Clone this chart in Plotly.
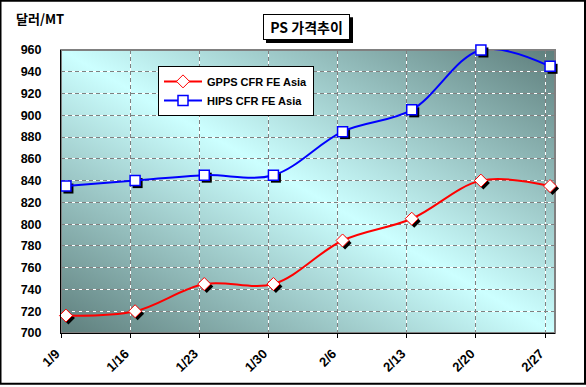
import base64
from datetime import datetime
import plotly.graph_objects as go

# ---- data ----
dates = ["2009-01-09", "2009-01-16", "2009-01-23", "2009-01-30",
         "2009-02-06", "2009-02-13", "2009-02-20", "2009-02-27"]
tick_labels = ["1/9", "1/16", "1/23", "1/30", "2/6", "2/13", "2/20", "2/27"]
gpps = [716, 720, 745, 745, 785, 805, 840, 835]
hips = [835, 840, 845, 845, 885, 905, 960, 945]
gpps_name = "GPPS CFR FE Asia"
hips_name = "HIPS CFR FE Asia"
title_text = "PS 가격추이"
y_title = "달러/MT"
y_ticks = list(range(700, 961, 20))

FONT = "Liberation Sans, Arial, Noto Sans CJK KR, sans-serif"
KFONT = "Noto Sans CJK KR, Liberation Sans, sans-serif"

W, H = 586, 387
ML, MR, MT, MB = 61, 31, 50, 52
PW, PH = W - ML - MR, H - MT - MB

x0d, x1d = datetime(2009, 1, 9), datetime(2009, 2, 28)
xrange_ = [x0d.strftime("%Y-%m-%d"), x1d.strftime("%Y-%m-%d")]
yrange_ = [700, 960]

# shadow axes: same scale, shifted ~2.5 px right / down
SH = 2.5
dx = (x1d - x0d) * (SH / PW)
dy = (yrange_[1] - yrange_[0]) * SH / PH
xrange_sh = [(x0d - dx).strftime("%Y-%m-%d %H:%M:%S"),
             (x1d - dx).strftime("%Y-%m-%d %H:%M:%S")]
yrange_sh = [yrange_[0] + dy, yrange_[1] + dy]

svg = (
    f'<svg xmlns="http://www.w3.org/2000/svg" width="{PW}" height="{PH}" '
    f'viewBox="0 0 {PW} {PH}" preserveAspectRatio="none">'
    '<defs><linearGradient id="g" x1="0" y1="1" x2="1" y2="0">'
    '<stop offset="0" stop-color="#5e7e7c"/>'
    '<stop offset="0.5" stop-color="#ccffff"/>'
    '<stop offset="1" stop-color="#5e7e7c"/>'
    '</linearGradient></defs>'
    f'<rect width="{PW}" height="{PH}" fill="url(#g)"/></svg>'
)
svg_uri = "data:image/svg+xml;base64," + base64.b64encode(svg.encode()).decode()

fig = go.Figure()
# helpers so the primary / grid-dash axes exist
fig.add_trace(go.Scatter(x=[dates[0]], y=[yrange_[0]], mode="markers",
                         marker=dict(opacity=0), showlegend=False, hoverinfo="skip"))
fig.add_trace(go.Scatter(x=[dates[0]], y=[yrange_[0]], xaxis="x2", yaxis="y2",
                         mode="markers", marker=dict(opacity=0), showlegend=False,
                         hoverinfo="skip"))
# marker shadows
for vals, sym in ((gpps, "diamond"), (hips, "square")):
    fig.add_trace(go.Scatter(
        x=dates, y=vals, xaxis="x3", yaxis="y3", mode="markers",
        xperiod=86400000, xperiodalignment="middle",
        marker=dict(symbol=sym, size=10, color="black", line=dict(width=0)),
        showlegend=False, hoverinfo="skip", cliponaxis=False,
    ))
# main series
fig.add_trace(go.Scatter(
    x=dates, y=gpps, name=gpps_name, mode="lines+markers",
    xaxis="x4", yaxis="y4",
    xperiod=86400000, xperiodalignment="middle",
    line=dict(color="#ff0000", width=2, shape="spline", smoothing=1),
    marker=dict(symbol="diamond", size=10, color="white",
                line=dict(color="#ff0000", width=1)),
    cliponaxis=False,
))
fig.add_trace(go.Scatter(
    x=dates, y=hips, name=hips_name, mode="lines+markers",
    xaxis="x4", yaxis="y4",
    xperiod=86400000, xperiodalignment="middle",
    line=dict(color="#0000ff", width=2, shape="spline", smoothing=1),
    marker=dict(symbol="square", size=10, color="white",
                line=dict(color="#0000ff", width=1.5)),
    cliponaxis=False,
))

hidden = dict(showticklabels=False, ticks="", showgrid=False, showline=False,
              zeroline=False)

fig.update_layout(
    width=W, height=H,
    margin=dict(l=ML, r=MR, t=MT, b=MB),
    paper_bgcolor="white",
    plot_bgcolor="rgba(0,0,0,0)",
    font=dict(family=FONT, color="black"),
    showlegend=True,
    hovermode=False,
    legend=dict(
        x=(158 - ML) / PW, y=1 - (66 - MT) / PH, xanchor="left", yanchor="top",
        bgcolor="white", bordercolor="black", borderwidth=1,
        font=dict(family=FONT, size=11, color="black", weight="bold"),
        tracegroupgap=0, itemwidth=38,
    ),
    xaxis=dict(
        type="date", range=xrange_,
        tickvals=dates, ticktext=tick_labels, tickangle=-45,
        tickfont=dict(family=FONT, size=13, color="black", weight="bold"),
        ticks="outside", ticklen=4, tickcolor="black",
        ticklabelshift=-5, ticklabelstandoff=3,
        showgrid=True, gridcolor="white", gridwidth=1,
        showline=True, linecolor="black", linewidth=1,
        zeroline=False,
    ),
    yaxis=dict(
        range=yrange_, tickvals=y_ticks,
        tickfont=dict(family=FONT, size=12.5, color="black", weight="bold"),
        ticks="", ticklabelstandoff=16,
        showgrid=True, gridcolor="white", gridwidth=1,
        showline=True, linecolor="black", linewidth=1,
        zeroline=False,
    ),
    xaxis2=dict(
        type="date", range=xrange_, overlaying="x", anchor="y2",
        tickvals=dates, showticklabels=False, ticks="",
        showgrid=True, gridcolor="#808080", griddash="4px,3px", gridwidth=1,
        showline=False, zeroline=False,
    ),
    yaxis2=dict(
        range=yrange_, overlaying="y", anchor="x2", tickvals=y_ticks,
        showticklabels=False, ticks="",
        showgrid=True, gridcolor="#808080", griddash="4px,3px", gridwidth=1,
        showline=False, zeroline=False,
    ),
    xaxis3=dict(type="date", range=xrange_sh, overlaying="x", anchor="y3", **hidden),
    yaxis3=dict(range=yrange_sh, overlaying="y", anchor="x3", **hidden),
    xaxis4=dict(type="date", range=xrange_, overlaying="x", anchor="y4", **hidden),
    yaxis4=dict(range=yrange_, overlaying="y", anchor="x4", **hidden),
    images=[dict(
        source=svg_uri, xref="paper", yref="paper", x=0, y=1,
        sizex=1, sizey=1, xanchor="left", yanchor="top",
        sizing="stretch", layer="below",
    )],
    shapes=[
        dict(type="rect", xref="paper", yref="paper", x0=0, x1=1, y0=0, y1=1,
             line=dict(color="#808080", width=2), layer="below"),
        dict(type="rect", xref="paper", yref="paper",
             x0=-ML / PW + 0.5 / PW, x1=1 + MR / PW - 1 / PW,
             y0=-MB / PH + 1 / PH, y1=1 + MT / PH - 0.5 / PH,
             line=dict(color="black", width=2)),
        # title box shadow
        dict(type="rect", xref="paper", yref="paper",
             x0=(266 - ML) / PW, x1=(353 - ML) / PW,
             y0=1 + (MT - 43) / PH, y1=1 + (MT - 17) / PH,
             fillcolor="black", line=dict(width=0)),
    ],
    annotations=[
        dict(text=title_text, xref="paper", yref="paper",
             x=(306.5 - ML) / PW, y=1 + (MT - 27) / PH,
             xanchor="center", yanchor="middle", width=83, height=22,
             showarrow=False, bgcolor="white", bordercolor="black", borderwidth=1,
             borderpad=1,
             font=dict(family=KFONT, size=14, color="black", weight="bold")),
        dict(text=y_title, xref="paper", yref="paper",
             x=(14 - ML) / PW, y=1 + (MT - 18) / PH, xanchor="left", yanchor="middle",
             showarrow=False,
             font=dict(family=KFONT, size=13, color="black", weight="bold")),
    ],
)

fig.write_html("out.html",
               config={"displayModeBar": False, "staticPlot": True},
               post_script="document.body.style.margin='0';"
                           "document.body.style.overflow='hidden';")
